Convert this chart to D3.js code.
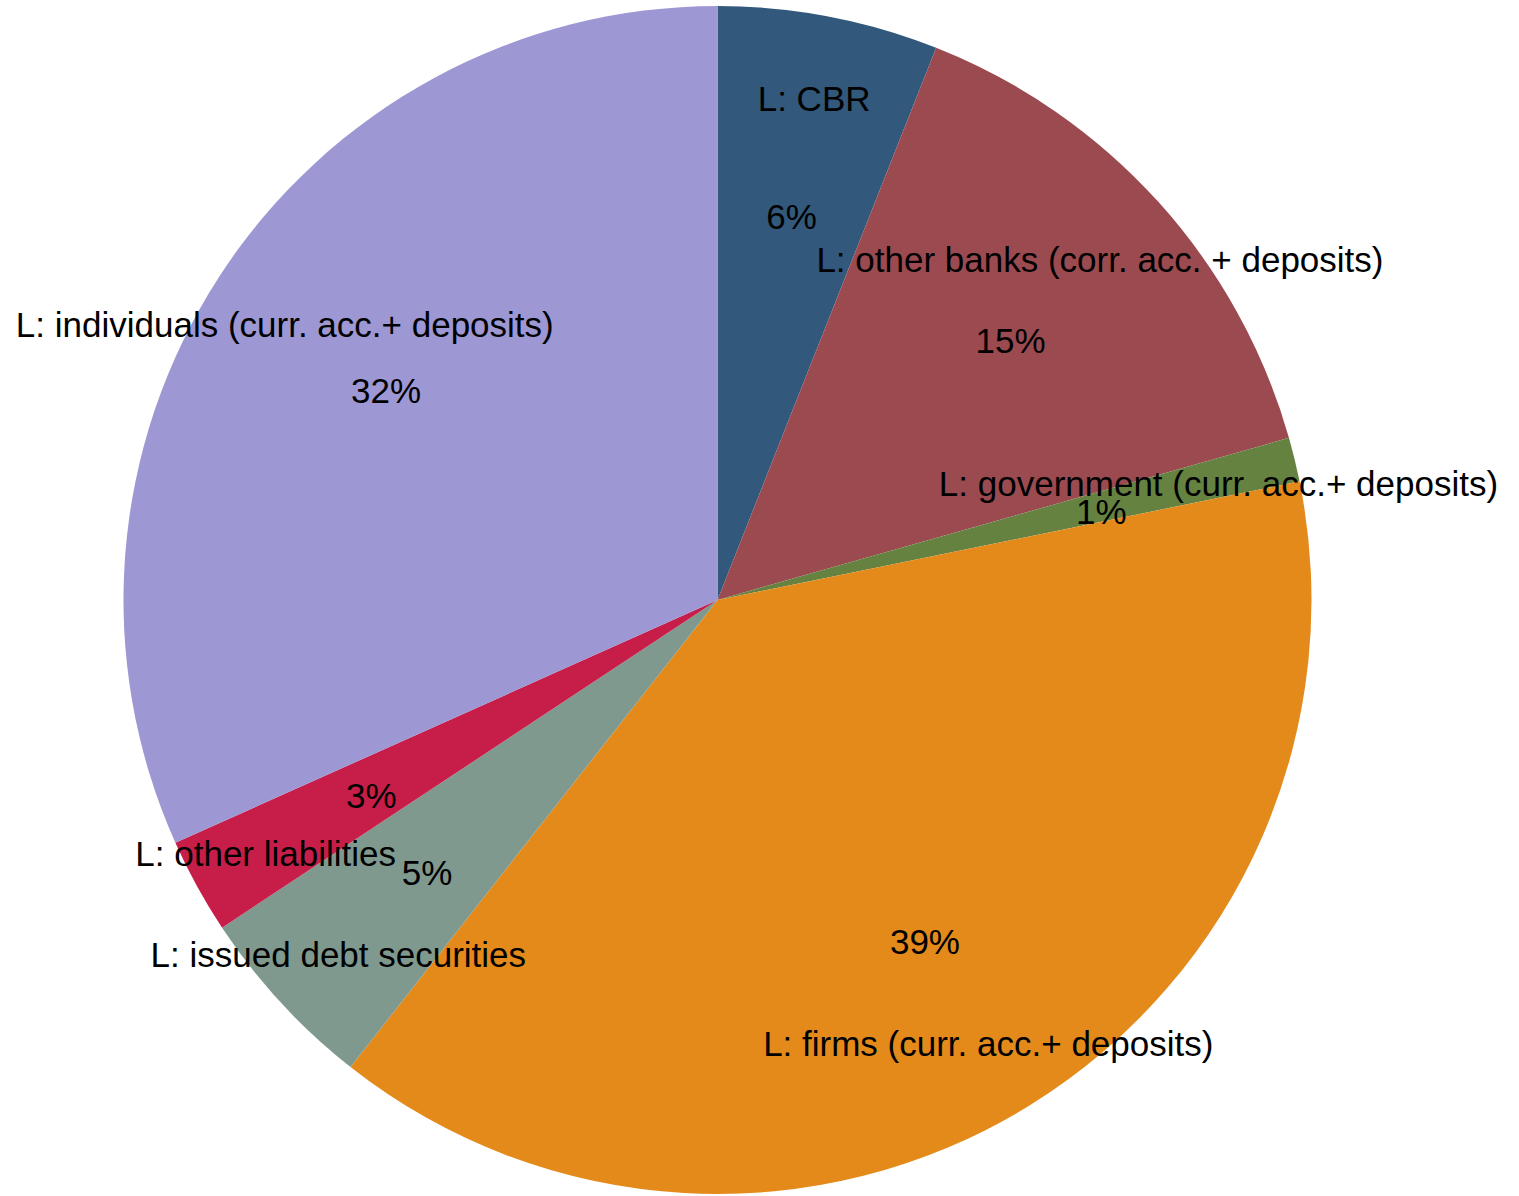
<!DOCTYPE html>
<html>
<head>
<meta charset="utf-8">
<script src="https://cdn.jsdelivr.net/npm/d3@7"></script>
<style>
  html, body { margin: 0; padding: 0; background: #ffffff; }
  svg { display: block; }
  text { font-family: "Liberation Sans", Arial, sans-serif; fill: #000; }
</style>
</head>
<body>
<svg id="chart" width="1519" height="1196"></svg>
<script>
// Liability structure, shares of total (%), clockwise from 12 o'clock
const categories = [
  "L: CBR",
  "L: other banks (corr. acc. + deposits)",
  "L: government (curr. acc.+ deposits)",
  "L: firms (curr. acc.+ deposits)",
  "L: issued debt securities",
  "L: other liabilities",
  "L: individuals (curr. acc.+ deposits)"
];
const shares = [6.0, 14.6, 1.2, 38.8, 5.1, 2.6, 31.7];
const colors = ["#32587C", "#9B4A50", "#658241", "#E48A1A", "#7F998E", "#C61E49", "#9D97D4"];

const width = 1519, height = 1196;
const cx = 717.5, cy = 600, radius = 594;
const fontSize = 35;

const data = categories.map((name, i) => ({ name, value: shares[i], color: colors[i] }));

const svg = d3.select("#chart");
const g = svg.append("g").attr("transform", `translate(${cx},${cy})`);

const pie = d3.pie().value(d => d.value).sort(null);
const arcs = pie(data);

const arc = d3.arc().innerRadius(0).outerRadius(radius);

g.selectAll("path.slice")
  .data(arcs)
  .join("path")
  .attr("class", "slice")
  .attr("d", arc)
  .attr("fill", d => d.data.color);

// Labels: percentage nearer the centre, category name further out, both on the slice bisector
const pctArc = d3.arc().innerRadius(0.665 * radius).outerRadius(0.665 * radius);
const nameArc = d3.arc().innerRadius(0.868 * radius).outerRadius(0.868 * radius);
const pctFmt = v => d3.format(".0f")(v) + "%";

g.selectAll("text.pct")
  .data(arcs)
  .join("text")
  .attr("class", "pct")
  .attr("transform", d => `translate(${pctArc.centroid(d)})`)
  .attr("text-anchor", "middle")
  .attr("dy", "0.5em")
  .style("font-size", fontSize + "px")
  .text(d => pctFmt(d.data.value));

g.selectAll("text.name")
  .data(arcs)
  .join("text")
  .attr("class", "name")
  .attr("transform", d => `translate(${nameArc.centroid(d)})`)
  .attr("text-anchor", "middle")
  .attr("dy", "0.5em")
  .style("font-size", fontSize + "px")
  .text(d => d.data.name);
</script>
</body>
</html>
